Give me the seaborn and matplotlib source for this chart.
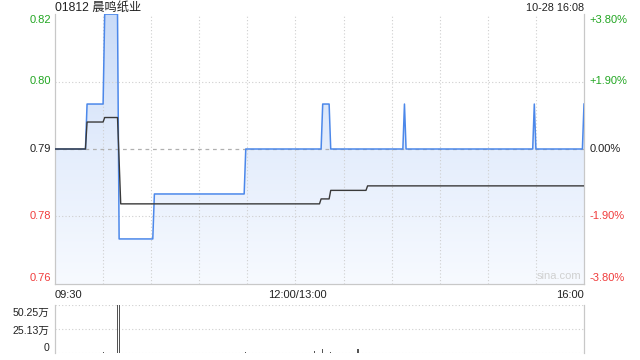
import numpy as np
import pandas as pd
import matplotlib
matplotlib.use("Agg")
import matplotlib.pyplot as plt
from matplotlib.colors import LinearSegmentedColormap
import seaborn as sns

# ---------------- data ----------------
title = "01812 晨鸣纸业"
stamp = "10-28 16:08"
prev_close = 0.79
# minutes since 09:30 (lunch break removed; 150 = 12:00/13:00, 330 = 16:00)
price_min = [0, 19, 20, 30, 31, 39, 40, 61, 62, 118, 119, 166, 167, 171, 172,
             217, 218, 219, 298, 299, 300, 329, 330]
price = [0.79, 0.79, 0.80, 0.80, 0.82, 0.82, 0.77, 0.77, 0.78, 0.78, 0.79, 0.79,
         0.80, 0.80, 0.79, 0.79, 0.80, 0.79, 0.79, 0.80, 0.79, 0.79, 0.80]
avg_min = [0, 19, 20, 30, 31, 39, 41, 165, 166, 171, 172, 194, 195, 330]
avg_price = [0.79, 0.79, 0.796, 0.796, 0.797, 0.797, 0.7778, 0.7778, 0.7789,
             0.7789, 0.7808, 0.7808, 0.7818, 0.7818]
vol_min = [19, 30, 39, 40, 62, 119, 162, 167, 172, 189, 218, 299, 315, 330]
volume = [5000, 6000, 502500, 498000, 5000, 6000, 18000, 40000, 6000, 44000,
          5000, 4000, 3000, 5000]
vol_ticks = [0, 251300, 502500]
vol_labels = ["0", "25.13万", "50.25万"]
x_labels = ["09:30", "12:00/13:00", "16:00"]
pct_labels = ["+3.80%", "+1.90%", "0.00%", "-1.90%", "-3.80%"]
price_labels = ["0.82", "0.80", "0.79", "0.78", "0.76"]

# ---------------- style ----------------
plt.rcParams['font.family'] = ['Liberation Sans', 'Noto Sans CJK SC', 'DejaVu Sans']
GREEN = '#22a622'
RED = '#f03c3c'
DARK = '#222222'
LINE = '#4c88ea'
GRID = '#cfcfcf'

fig = plt.figure(figsize=(6.4, 3.6), dpi=100)
W, H = 640, 360
L, R = 55, 584
ax = fig.add_axes([L / W, 1 - 284 / H, (R - L) / W, (284 - 14) / H])
axv = fig.add_axes([L / W, 1 - 353 / H, (R - L) / W, (353 - 305) / H])

lo, hi = prev_close * (1 - 0.038), prev_close * (1 + 0.038)

df_p = pd.DataFrame({"t": price_min, "p": price})
df_a = pd.DataFrame({"t": avg_min, "p": avg_price})

# gradient fill under price line
poly = ax.fill_between(df_p["t"], df_p["p"], lo, color='none', lw=0)
cmap = LinearSegmentedColormap.from_list("g", ["#f7faff", "#e4edfc", "#c9dbf8"])
grad = np.linspace(0, 1, 256).reshape(-1, 1)
im = ax.imshow(grad, extent=[0, 330, lo, hi], origin='lower', aspect='auto',
               cmap=cmap, zorder=1)
im.set_clip_path(poly.get_paths()[0], transform=ax.transData)

# grid lines (drawn over the fill)
for m in [30, 60, 90, 120, 150, 180, 210, 240, 270, 300]:
    ax.axvline(m, color=GRID, lw=0.8, ls=(0, (1, 2)), zorder=2)
for y in [prev_close * 1.019, prev_close * 0.981]:
    ax.axhline(y, color=GRID, lw=0.8, ls=(0, (1, 2)), zorder=2)
ax.axhline(prev_close, color='#b0b0b0', lw=0.9, ls=(0, (3, 3)), zorder=2.1)

sns.lineplot(data=df_p, x="t", y="p", ax=ax, color=LINE, lw=1.1,
             estimator=None, sort=False, zorder=3)
sns.lineplot(data=df_a, x="t", y="p", ax=ax, color='#3a3a3a', lw=1.0,
             estimator=None, sort=False, zorder=4)

ax.set_xlim(0, 330)
ax.set_ylim(lo, hi)
ax.set_xlabel("")
ax.set_ylabel("")
ax.set_xticks([])
ax.set_yticks([])
for s in ['left', 'right', 'bottom']:
    ax.spines[s].set_color('#c8c8c8')
    ax.spines[s].set_linewidth(0.9)
ax.spines['top'].set_visible(False)

# price / percent labels
ylev = [hi, prev_close * 1.019, prev_close, prev_close * 0.981, lo]
vas = ['top', 'center', 'center', 'center', 'bottom']
cols = [GREEN, GREEN, DARK, RED, RED]
for yv, lab, pl, va, c in zip(ylev, price_labels, pct_labels, vas, cols):
    off = -1 if va == 'top' else (1 if va == 'bottom' else 0)
    ax.annotate(lab, xy=(0, yv), xycoords=('axes fraction', 'data'),
                xytext=(-3, off), textcoords='offset points', ha='right',
                va=va, fontsize=8, color=c)
    ax.annotate(pl, xy=(1, yv), xycoords=('axes fraction', 'data'),
                xytext=(4, off), textcoords='offset points', ha='left',
                va=va, fontsize=8, color=c)

ax.text(0.995, 0.012, "sina.com", transform=ax.transAxes, ha='right',
        va='bottom', fontsize=8, color='#d0d0d0')

fig.text(L / W, 1 - 8 / H, title, ha='left', va='center', fontsize=8.8,
         color=DARK)
fig.text(R / W, 1 - 8 / H, stamp, ha='right', va='center', fontsize=7.8,
         color=DARK)

# x labels
fig.text(L / W, 1 - 295 / H, x_labels[0], ha='left', va='center', fontsize=8, color=DARK)
fig.text(297 / W, 1 - 295 / H, x_labels[1], ha='center', va='center', fontsize=8, color=DARK)
fig.text(R / W, 1 - 295 / H, x_labels[2], ha='right', va='center', fontsize=8, color=DARK)

# volume panel
axv.bar(vol_min, volume, width=0.7, color='#555555', zorder=3)
axv.set_xlim(0, 330)
axv.set_ylim(0, 502500)
for y in vol_ticks:
    axv.axhline(y, color=GRID, lw=0.8, ls=(0, (1, 2)), zorder=0.5)
axv.set_xticks([])
axv.set_yticks([])
for s in ['top', 'bottom']:
    axv.spines[s].set_visible(False)
for s in ['left', 'right']:
    axv.spines[s].set_color('#c8c8c8')
    axv.spines[s].set_linewidth(0.9)
voffs = [3.4, -1.2, -5.5]
for yv, lab, off in zip(vol_ticks, vol_labels, voffs):
    axv.annotate(lab, xy=(0, yv), xycoords=('axes fraction', 'data'),
                 xytext=(-4, off), textcoords='offset points', ha='right',
                 va='center', fontsize=7.6, color=DARK)

fig.savefig("out.png", dpi=100)
